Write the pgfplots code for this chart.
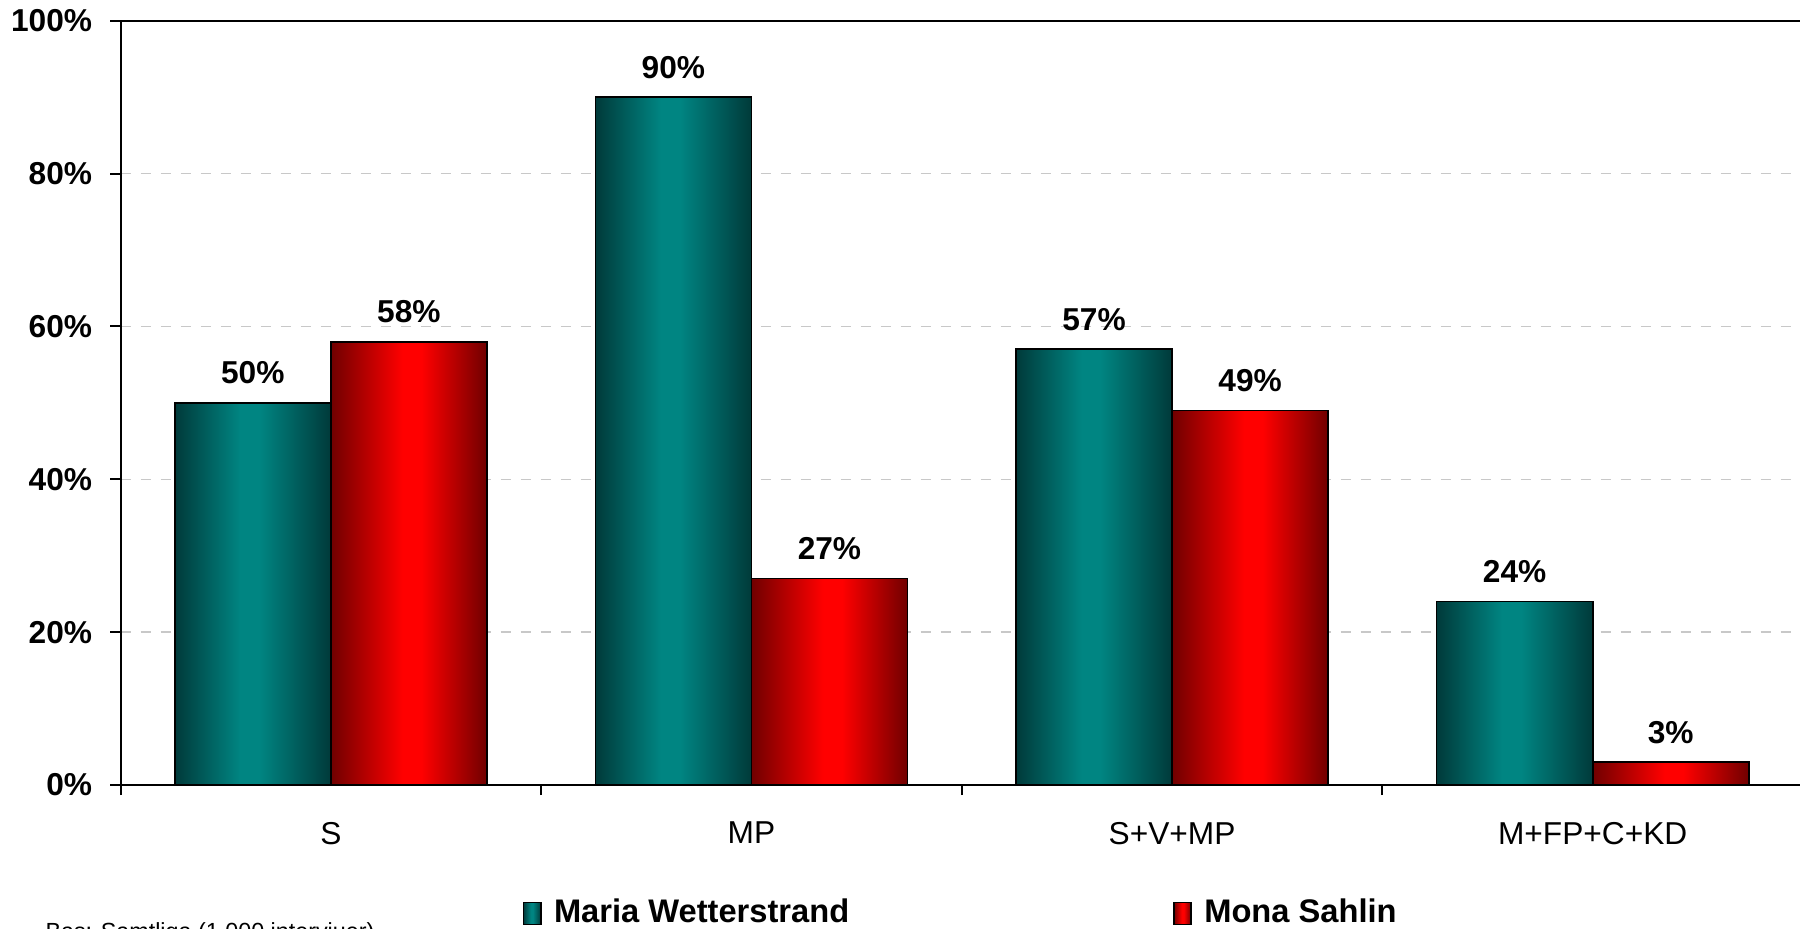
\documentclass[border=0pt]{standalone}
\usepackage{fontspec}
\setmainfont{Liberation Sans}
\usepackage{pgfplots}
\pgfplotsset{compat=1.18}

\definecolor{tealmid}{HTML}{008582}
\definecolor{tealdark}{HTML}{003A3A}
\definecolor{redmid}{HTML}{FF0000}
\definecolor{reddark}{HTML}{700000}
\definecolor{gridgray}{HTML}{C8C8C8}

% path is mapped onto 25bp..75bp of the shading
\pgfdeclarehorizontalshading{tealbar}{100bp}{color(0bp)=(tealdark); color(25bp)=(tealdark);
  color(46bp)=(tealmid); color(52bp)=(tealmid); color(75bp)=(tealdark); color(100bp)=(tealdark)}
\pgfdeclarehorizontalshading{redbar}{100bp}{color(0bp)=(reddark); color(25bp)=(reddark);
  color(48bp)=(redmid); color(54bp)=(redmid); color(75bp)=(reddark); color(100bp)=(reddark)}

\pgfplotsset{
  teal bar/.style={draw=black, line width=0.5pt, shading=tealbar, bar shift=-0.1855},
  red bar/.style={draw=black, line width=0.5pt, shading=redbar, bar shift=0.1855},
}

\begin{document}
\begin{tikzpicture}
\begin{axis}[
  at={(0,0)}, anchor=south west,
  scale only axis,
  width=504.75pt, height=229.3pt,
  xmin=-0.5, xmax=3.5,
  ymin=0, ymax=100,
  ybar=0pt, bar width=0.371,
  xtick={0,1,2,3},
  xticklabels={S, MP, S+V+MP, M+FP+C+KD},
  minor xtick={-0.5,0.5,1.5,2.5},
  ytick={0,20,...,100},
  yticklabel={\pgfmathprintnumber{\tick}\%},
  /pgf/number format/assume math mode=true,
  xtick pos=bottom, ytick pos=left,
  tick align=outside,
  major x tick style={draw=none},
  major tick length=3pt, minor tick length=3pt,
  tick style={black, line width=0.6pt},
  axis line style={black, line width=0.6pt},
  ymajorgrids,
  major grid style={gridgray, dashed, line width=0.4pt},
  yticklabel style={font=\fontsize{9.5}{11}\selectfont\bfseries, xshift=-2pt},
  xticklabel style={font=\fontsize{9.5}{11}\selectfont, yshift=-4.6pt},
  nodes near coords={\pgfmathprintnumber{\pgfplotspointmeta}\%},
  nodes near coords style={font=\fontsize{9.5}{11}\selectfont\bfseries, anchor=south, yshift=2pt, black},
  legend columns=2,
  legend style={at={(rel axis cs:0,0)}, anchor=west, xshift=120.45pt, yshift=-38.5pt,
    draw=none, fill=none, inner sep=0pt,
    font=\fontsize{9.8}{11}\selectfont\bfseries,
    nodes={inner xsep=3.7pt},
    /tikz/every even column/.append style={column sep=93.4pt}},
  legend image code/.code={\draw[#1] (0pt,-3.3pt) rectangle (5.2pt,3.3pt);},
]
% Maria Wetterstrand
\addplot[teal bar, forget plot] coordinates {(0,50)};
\addplot[teal bar, forget plot] coordinates {(1,90)};
\addplot[teal bar, forget plot] coordinates {(2,57)};
\addplot[teal bar, forget plot] coordinates {(3,24)};
% Mona Sahlin
\addplot[red bar, forget plot] coordinates {(0,58)};
\addplot[red bar, forget plot] coordinates {(1,27)};
\addplot[red bar, forget plot] coordinates {(2,49)};
\addplot[red bar, forget plot] coordinates {(3,3)};
\addlegendimage{teal bar}
\addlegendentry{Maria Wetterstrand}
\addlegendimage{red bar}
\addlegendentry{Mona Sahlin}
\end{axis}
\node[anchor=base west, inner sep=0pt, font=\fontsize{7}{8}\selectfont] at (-22.7pt,-46.4pt) {Bas: Samtliga (1 000 intervjuer)};
\pgfresetboundingbox
\path (-36.15pt,-42.9pt) rectangle (503.85pt,235.5pt);
\end{tikzpicture}
\end{document}
